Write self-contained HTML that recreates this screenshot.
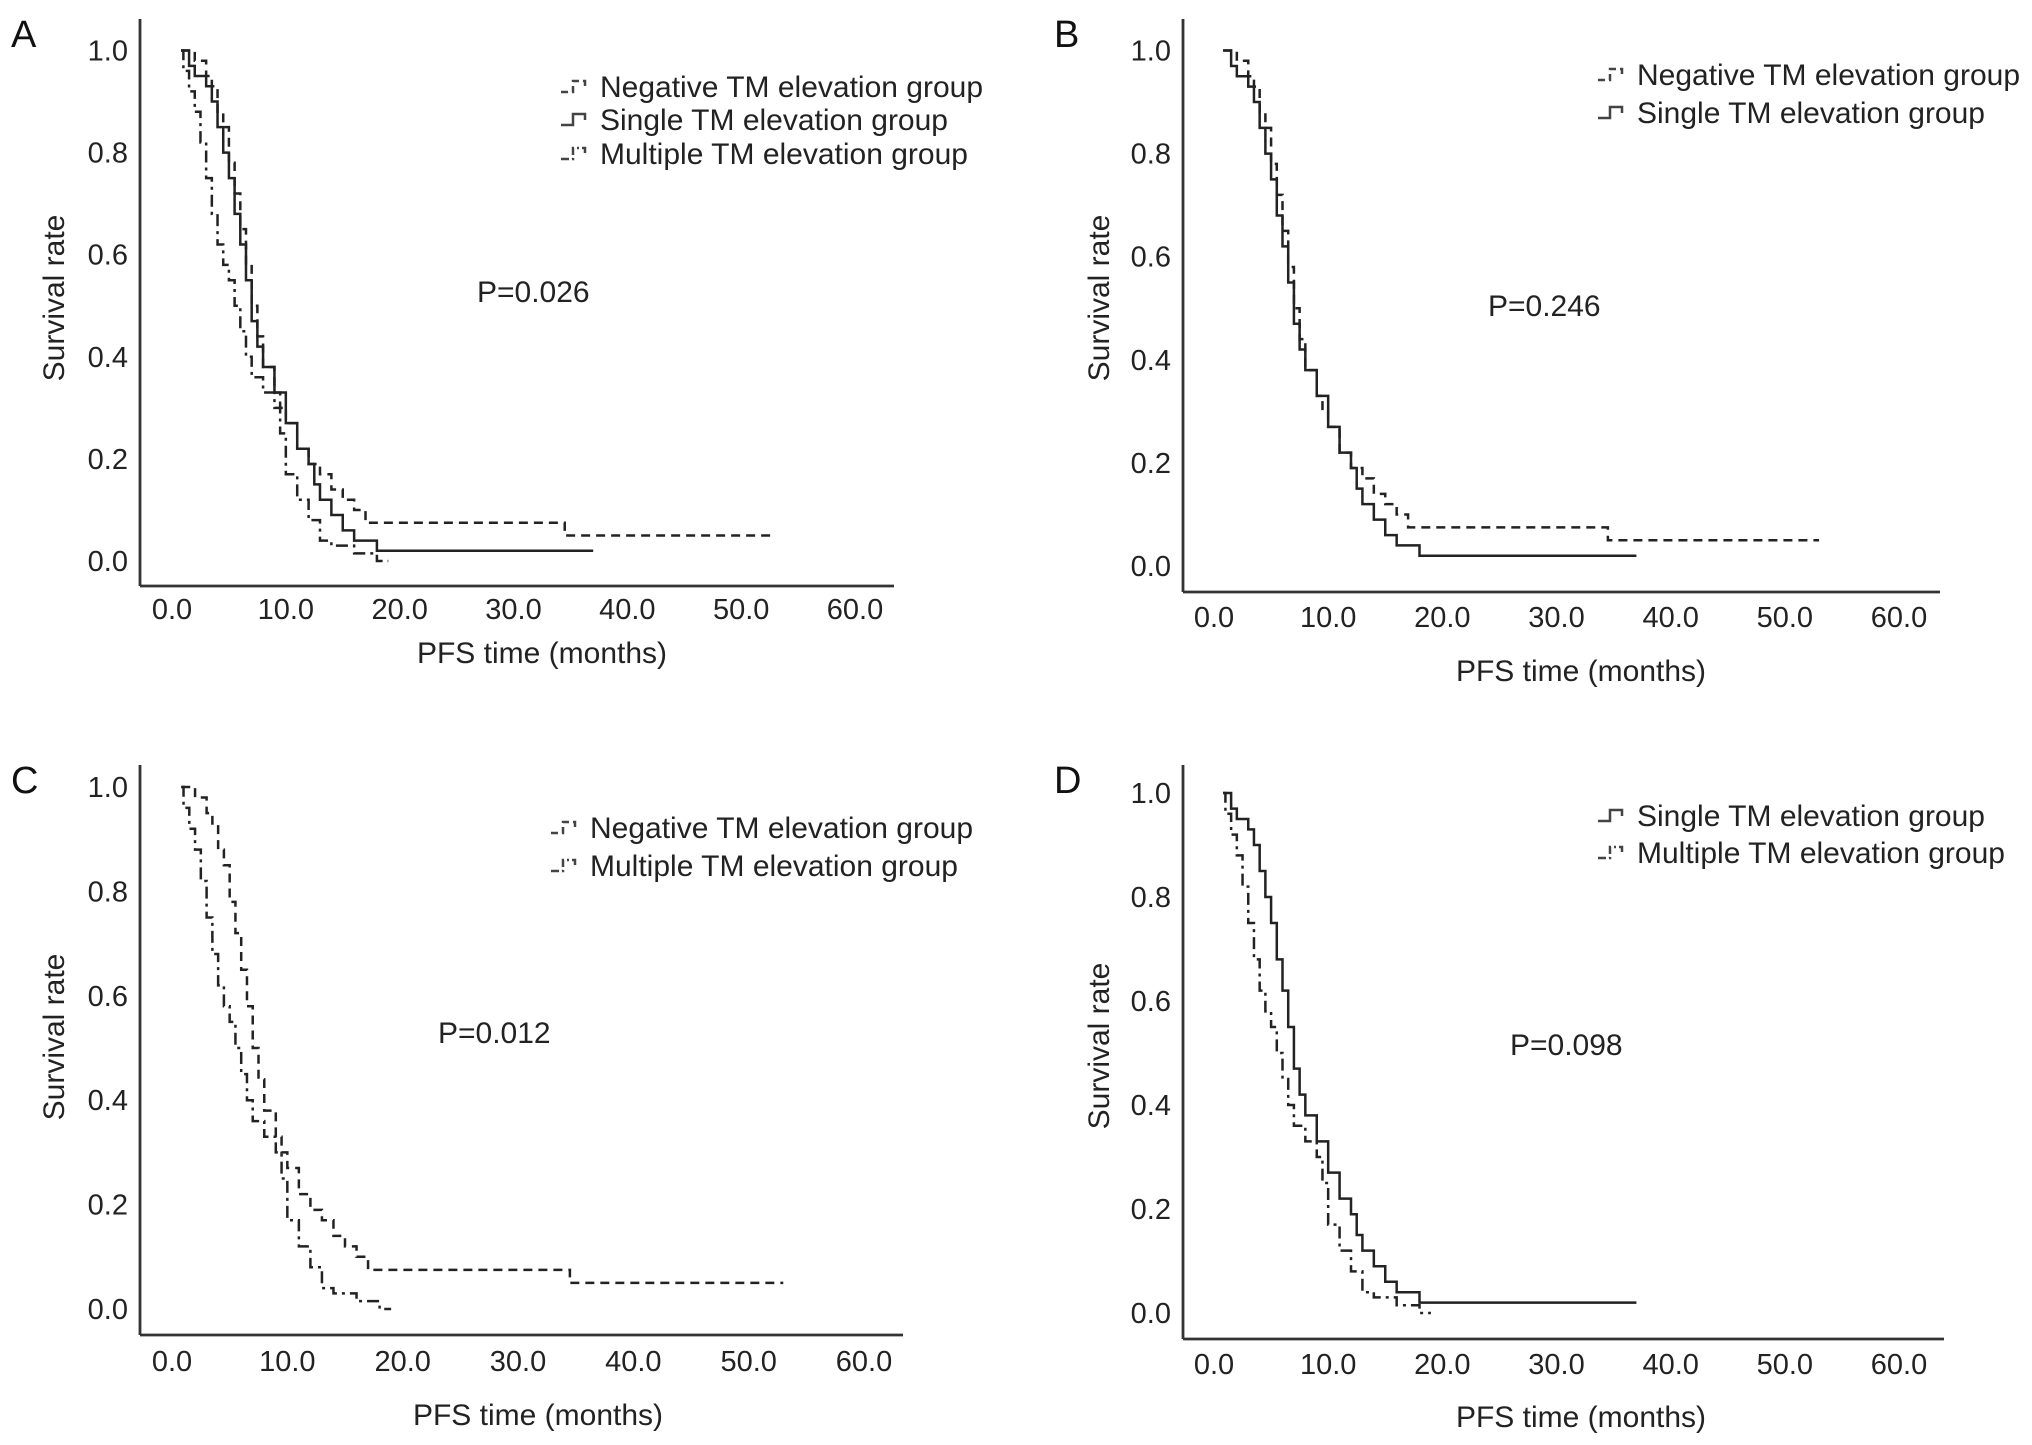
<!DOCTYPE html>
<html><head><meta charset="utf-8"><style>
html,body{margin:0;padding:0;background:#fff;}
svg{display:block;font-family:"Liberation Sans",Arial,sans-serif;}
</style></head><body>
<svg id="fig" width="2032" height="1445" viewBox="0 0 2032 1445"></svg>
<script>
// Survival data (time in months, survival rate)
const negT = [0.8,2,3,3.5,4,4.5,5,5.5,6,6.5,7,7.5,8,9,9.5,10,11,12,13,14,15,16,17,34.5];
const negS = [1.0,0.98,0.95,0.93,0.88,0.85,0.78,0.72,0.65,0.58,0.5,0.44,0.38,0.33,0.30,0.27,0.22,0.19,0.17,0.14,0.12,0.10,0.075,0.05];
const negEnd = 53;
const sinT = [0.8,1.5,2,3,3.5,4,4.5,5,5.5,6,6.5,7,7.5,8,9,10,11,12,12.5,13,14,15,16,18];
const sinS = [1.0,0.97,0.95,0.93,0.9,0.85,0.8,0.75,0.68,0.62,0.55,0.47,0.42,0.38,0.33,0.27,0.22,0.19,0.15,0.12,0.09,0.06,0.04,0.02];
const sinEnd = 37;
const mulT = [0.8,1,1.5,2,2.5,3,3.5,4,4.5,5,5.5,6,6.5,7,8,9,9.5,10,11,12,13,14,16,18];
const mulS = [1.0,0.96,0.92,0.88,0.82,0.75,0.68,0.62,0.58,0.55,0.5,0.45,0.4,0.36,0.33,0.3,0.25,0.17,0.12,0.08,0.04,0.03,0.015,0.0];
const mulEnd = 19;
const xTicks = [0,10,20,30,40,50,60];
const xTickLabels = ["0.0","10.0","20.0","30.0","40.0","50.0","60.0"];
const yTicks = [0,0.2,0.4,0.6,0.8,1.0];
const yTickLabels = ["0.0","0.2","0.4","0.6","0.8","1.0"];

const NS = "http://www.w3.org/2000/svg";
const svg = document.getElementById('fig');
function mk(tag, attrs, parent){const e=document.createElementNS(NS,tag);for(const k in attrs)e.setAttribute(k,attrs[k]);(parent||svg).appendChild(e);return e;}

const series = {
  neg:{t:negT,s:negS,end:negEnd,dash:"9,6",name:"Negative TM elevation group",key:"negative"},
  sin:{t:sinT,s:sinS,end:sinEnd,dash:"",name:"Single TM elevation group",key:"single"},
  mul:{t:mulT,s:mulS,end:mulEnd,dash:"12,5,3,5",name:"Multiple TM elevation group",key:"multiple"}
};

const panels = [
  {id:"a",letter:"A",ax:140,top:19,xb:586,xr:894,x0:172,x60:855,y1:50.5,y0:561,ser:["neg","sin","mul"],legX:561,legY:[87,120,154],p:"P=0.026",px:477,py:292,ytx:54,yty:298,xlY:619,xtY:663,xtc:542},
  {id:"b",letter:"B",ax:1183,top:19,xb:592,xr:1940,x0:1214,x60:1899,y1:50.5,y0:566,ser:["neg","sin"],legX:1598,legY:[75,113],p:"P=0.246",px:1488,py:306,ytx:1099,yty:298,xlY:627,xtY:681,xtc:1581},
  {id:"c",letter:"C",ax:140,top:765,xb:1335,xr:903,x0:172,x60:864,y1:787,y0:1309,ser:["neg","mul"],legX:551,legY:[828,866],p:"P=0.012",px:438,py:1033,ytx:54,yty:1037,xlY:1371,xtY:1425,xtc:538},
  {id:"d",letter:"D",ax:1183,top:765,xb:1339,xr:1944,x0:1214,x60:1899,y1:793,y0:1313,ser:["sin","mul"],legX:1598,legY:[816,853],p:"P=0.098",px:1510,py:1045,ytx:1099,yty:1046,xlY:1374,xtY:1427,xtc:1581}
];

panels.forEach(P=>{
  const g = mk('g',{});
  
  
  const xs = v => P.x0 + (P.x60-P.x0)*v/60;
  const ys = v => P.y0 + (P.y1-P.y0)*v;
  const lab = mk('text',{x:P.ax-129,y:P.top+28,'font-size':38,fill:'#111'},g);
  lab.textContent=P.letter;
  
  
  const yax = mk('line',{x1:P.ax,y1:P.top,x2:P.ax,y2:P.xb,stroke:'#333','stroke-width':2.8},g);
  
  
  const xax = mk('line',{x1:P.ax,y1:P.xb,x2:P.xr,y2:P.xb,stroke:'#333','stroke-width':2.8},g);
  
  
  yTicks.forEach((v,i)=>{
    const t = mk('text',{x:P.ax-12,y:ys(v)+10,'font-size':29,'text-anchor':'end',fill:'#222'},g);
    t.textContent=yTickLabels[i];
    
    
  });
  xTicks.forEach((v,i)=>{
    const t = mk('text',{x:xs(v),y:P.xlY,'font-size':29,'text-anchor':'middle',fill:'#222'},g);
    t.textContent=xTickLabels[i];
    
    
  });
  const xt = mk('text',{x:P.xtc,y:P.xtY,'font-size':30,'text-anchor':'middle',fill:'#222'},g);
  xt.textContent='PFS time (months)';
  
  
  const yt = mk('text',{x:0,y:0,'font-size':30,'text-anchor':'middle',fill:'#222',transform:`translate(${P.ytx+10},${P.yty}) rotate(-90)`},g);
  yt.textContent='Survival rate';
  
  
  const pv = mk('text',{x:P.px,y:P.py+10,'font-size':30,fill:'#222'},g);
  pv.textContent=P.p;
  
  
  P.ser.forEach((k,i)=>{
    const S = series[k];
    let d = `M${xs(S.t[0])},${ys(S.s[0])}`;
    for(let j=1;j<S.t.length;j++){ d += ` H${xs(S.t[j])} V${ys(S.s[j])}`; }
    d += ` H${xs(S.end)}`;
    const path = mk('path',{d:d,fill:'none',stroke:'#222','stroke-width':2.5},g);
    if(S.dash) path.setAttribute('stroke-dasharray',S.dash);
    
    
    const ly = P.legY[i];
    const sym = mk('path',{d:`M${P.legX},${ly+5} h12 v-11 h12 v6`,fill:'none',stroke:'#444','stroke-width':2.5},g);
    if(S.dash) sym.setAttribute('stroke-dasharray',k==='neg'?'7,4':'8,3,2,3');
    
    
    const lt = mk('text',{x:P.legX+39,y:ly+10,'font-size':30,fill:'#222'},g);
    lt.textContent=S.name;
    
    
  });
});
</script>
</body></html>
